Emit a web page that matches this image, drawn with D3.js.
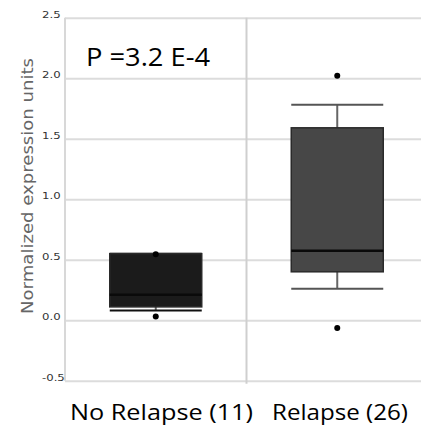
<!DOCTYPE html>
<html>
<head>
<meta charset="utf-8">
<script src="https://cdn.jsdelivr.net/npm/d3@7"></script>
<style>
  body { margin: 0; background: #fff; }
  svg { display: block; }
</style>
</head>
<body>
<div id="chart"></div>
<script>
// values
var groups = ["No Relapse (11)", "Relapse (26)"];
var q1 = [0.11, 0.40];
var medians = [0.21, 0.575];
var q3 = [0.55, 1.59];
var whiskLow = [0.08, 0.26];
var whiskHigh = [0.55, 1.78];
var outHigh = [0.545, 2.02];
var outLow = [0.03, -0.065];
var boxFill = ["#1b1b1b", "#474747"];
var yTicks = [-0.5, 0.0, 0.5, 1.0, 1.5, 2.0, 2.5];

var verdana = "Verdana, 'DejaVu Sans', sans-serif";

var svg = d3.select("#chart")
    .append("svg")
    .attr("width", 421)
    .attr("height", 430);

var xScale = d3.scaleBand().domain(groups).range([65, 428]);
var yScale = d3.scaleLinear().domain([-0.5, 2.5]).range([380.7, 17.7]);

// grid lines
svg.append("g")
    .attr("transform", "translate(" + 65 + "," + 0 + ")")
    .call(d3.axisRight(yScale).tickValues(yTicks).tickSize(360).tickFormat(""))
    .call(g => g.select(".domain").remove())
    .call(g => g.selectAll("line").attr("stroke", "#dcdcdc").attr("stroke-width", 2));

// left axis line + separator
svg.append("line")
    .attr("x1", 65).attr("x2", 65)
    .attr("y1", yScale(2.5)).attr("y2", yScale(-0.5))
    .attr("stroke", "#d8d8d8").attr("stroke-width", 2);
svg.append("line")
    .attr("x1", xScale.range()[0] + xScale.bandwidth()).attr("x2", xScale.range()[0] + xScale.bandwidth())
    .attr("y1", yScale(2.5)).attr("y2", yScale(-0.5) + 3)
    .attr("stroke", "#cfcfcf").attr("stroke-width", 2);

// tick labels
svg.append("g").selectAll("text")
    .data(yTicks).enter().append("text")
    .attr("transform", d => "translate(42," + yScale(d) + ") scale(1.3,1)")
    .attr("font-family", verdana)
    .attr("font-size", 9)
    .attr("fill", "#333")
    .text(d => d.toFixed(1));

// y title
svg.append("g")
    .attr("transform", "translate(" + 33 + ", " + 186 + ")")
    .append("text")
    .attr("transform", "rotate(-90)")
    .attr("text-anchor", "middle")
    .attr("font-family", verdana)
    .attr("font-size", 16)
    .attr("textLength", 256)
    .attr("lengthAdjust", "spacingAndGlyphs")
    .attr("fill", "#666")
    .text("Normalized expression units");

var half = 46;
var boxes = svg.append("g").selectAll("g")
    .data(groups).enter().append("g");

// whiskers
boxes.append("line")
    .attr("x1", d => xScale(d) + xScale.bandwidth() / 2)
    .attr("x2", d => xScale(d) + xScale.bandwidth() / 2)
    .attr("y1", (d, i) => yScale(whiskLow[i]))
    .attr("y2", (d, i) => yScale(whiskHigh[i]))
    .attr("stroke", "#666").attr("stroke-width", 2);
boxes.selectAll(".cap")
    .data((d, i) => [[d, whiskLow[i], i], [d, whiskHigh[i], i]])
    .enter().append("line")
    .attr("x1", p => xScale(p[0]) + xScale.bandwidth() / 2 - half)
    .attr("x2", p => xScale(p[0]) + xScale.bandwidth() / 2 + half)
    .attr("y1", p => yScale(p[1]))
    .attr("y2", p => yScale(p[1]))
    .attr("stroke", p => p[2] == 0 ? "#111" : "#555").attr("stroke-width", 2);

boxes.append("rect")
    .attr("x", d => xScale(d) + xScale.bandwidth() / 2 - half)
    .attr("width", half * 2)
    .attr("y", (d, i) => yScale(q3[i]))
    .attr("height", (d, i) => yScale(q1[i]) - yScale(q3[i]))
    .attr("fill", (d, i) => boxFill[i])
    .attr("stroke", "#2a2a2a").attr("stroke-width", 1.5);

boxes.append("line")
    .attr("x1", d => xScale(d) + xScale.bandwidth() / 2 - half)
    .attr("x2", d => xScale(d) + xScale.bandwidth() / 2 + half)
    .attr("y1", (d, i) => yScale(medians[i]))
    .attr("y2", (d, i) => yScale(medians[i]))
    .attr("stroke", "#0a0a0a").attr("stroke-width", 2.5);

boxes.selectAll("circle")
    .data((d, i) => [[d, outHigh[i]], [d, outLow[i]]])
    .enter().append("circle")
    .attr("cx", p => xScale(p[0]) + xScale.bandwidth() / 2)
    .attr("cy", p => yScale(p[1]))
    .attr("r", 3)
    .attr("fill", "#000");

// p value
svg.append("text")
    .attr("x", 86).attr("y", 65.7)
    .attr("font-family", "'Open Sans', sans-serif")
    .attr("font-size", 26)
    .attr("textLength", 124)
    .attr("lengthAdjust", "spacingAndGlyphs")
    .attr("fill", "#000")
    .text("P =3.2 E-4");

// group labels
var labelX = [70, 272];
var labelW = [183, 136];
svg.append("g").selectAll("text")
    .data(groups).enter().append("text")
    .attr("x", (d, i) => labelX[i])
    .attr("y", 420)
    .attr("font-family", "'Open Sans', sans-serif")
    .attr("font-size", 21)
    .attr("textLength", (d, i) => labelW[i])
    .attr("lengthAdjust", "spacingAndGlyphs")
    .attr("fill", "#000")
    .text(d => d);
</script>
</body>
</html>
